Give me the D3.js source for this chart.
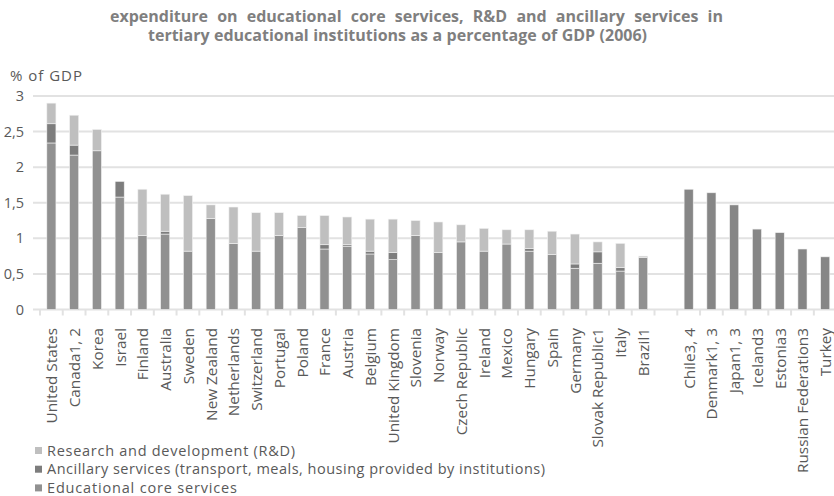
<!DOCTYPE html>
<html>
<head>
<meta charset="utf-8">
<script src="https://cdn.jsdelivr.net/npm/d3@7"></script>
<style>
  html, body { margin: 0; padding: 0; background: #fff; }
  svg { display: block; font-family: "Open Sans", "Noto Sans", sans-serif; }
</style>
</head>
<body>
<svg id="chart" width="834" height="496"></svg>
<script>
// Countries (empty slot separates countries with only a total figure)
const categories = [
  "United States", "Canada1, 2", "Korea", "Israel", "Finland", "Australia", "Sweden",
  "New Zealand", "Netherlands", "Switzerland", "Portugal", "Poland", "France", "Austria",
  "Belgium", "United Kingdom", "Slovenia", "Norway", "Czech Republic", "Ireland", "Mexico",
  "Hungary", "Spain", "Germany", "Slovak Republic1", "Italy", "Brazil1", "",
  "Chile3, 4", "Denmark1, 3", "Japan1, 3", "Iceland3", "Estonia3", "Russian Federation3", "Turkey"
];

// Educational core services (% of GDP)
const coreServices = [
  2.34, 2.17, 2.23, 1.58, 1.04, 1.06, 0.82, 1.28, 0.93, 0.82, 1.04, 1.15, 0.85, 0.89,
  0.78, 0.70, 1.04, 0.80, 0.95, 0.82, 0.92, 0.82, 0.77, 0.58, 0.65, 0.54, 0.73, 0,
  0, 0, 0, 0, 0, 0, 0
];

// Ancillary services (transport, meals, housing provided by institutions)
const ancillary = [
  0.27, 0.14, 0.00, 0.22, 0.00, 0.04, 0.00, 0.00, 0.00, 0.00, 0.00, 0.00, 0.06, 0.02,
  0.04, 0.10, 0.00, 0.00, 0.00, 0.00, 0.00, 0.04, 0.00, 0.06, 0.16, 0.05, 0.00, 0,
  0, 0, 0, 0, 0, 0, 0
];

// Research and development (R&D)
const researchDev = [
  0.29, 0.42, 0.30, 0.00, 0.65, 0.52, 0.78, 0.19, 0.51, 0.54, 0.32, 0.17, 0.41, 0.39,
  0.45, 0.47, 0.21, 0.43, 0.24, 0.32, 0.20, 0.26, 0.33, 0.42, 0.14, 0.34, 0.02, 0,
  0, 0, 0, 0, 0, 0, 0
];

// Total expenditure where no breakdown is available
const totalOnly = [
  0, 0, 0, 0, 0, 0, 0, 0, 0, 0, 0, 0, 0, 0,
  0, 0, 0, 0, 0, 0, 0, 0, 0, 0, 0, 0, 0, 0,
  1.69, 1.64, 1.47, 1.13, 1.08, 0.85, 0.74
];

const yTicks = [0, 0.5, 1, 1.5, 2, 2.5, 3];

const titleLines = [
  "expenditure on educational core services, R&D and ancillary services in",
  "tertiary educational institutions as a percentage of GDP (2006)"
];

const legendItems = [
  { key: "rnd", label: "Research and development (R&D)" },
  { key: "ancillary", label: "Ancillary services (transport, meals, housing provided by institutions)" },
  { key: "core", label: "Educational core services" }
];

const colors = { core: "#919191", ancillary: "#7d7d7d", rnd: "#bfbfbf", total: "#868686" };

// ---- build rows and stack ----
const rows = categories.map((c, i) => ({
  cat: c, idx: i,
  core: coreServices[i], ancillary: ancillary[i], rnd: researchDev[i], total: totalOnly[i]
}));
const keys = ["core", "ancillary", "rnd", "total"];
const stacked = d3.stack().keys(keys)(rows);

const svg = d3.select("#chart");
const plotLeft = 40, plotRight = 836.6, plotTop = 96, plotBottom = 309.5;

const x = d3.scaleBand()
  .domain(d3.range(categories.length))
  .range([plotLeft, plotRight])
  .paddingInner(0.6)
  .paddingOuter(0.3);
const step = x.step();

const y = d3.scaleLinear().domain([0, 3]).range([plotBottom, plotTop]);

const locale = d3.formatLocale({ decimal: ",", thousands: ".", grouping: [3], currency: ["", ""] });
const fmt = locale.format("~g");

// gridlines
svg.append("g").selectAll("line")
  .data(yTicks)
  .join("line")
  .attr("x1", 33).attr("x2", 834)
  .attr("y1", d => y(d)).attr("y2", d => y(d))
  .attr("stroke", "#e2e2e2").attr("stroke-width", 2);

// category boundary ticks below the baseline
svg.append("g").selectAll("line")
  .data(d3.range(categories.length + 1))
  .join("line")
  .attr("x1", i => plotLeft + i * step).attr("x2", i => plotLeft + i * step)
  .attr("y1", plotBottom).attr("y2", plotBottom + 6)
  .attr("stroke", "#e2e2e2").attr("stroke-width", 2);

// y axis labels
const yAxis = d3.axisLeft(y).tickValues(yTicks).tickFormat(fmt).tickSize(0).tickPadding(0);
const yg = svg.append("g").attr("transform", "translate(24,0)").call(yAxis);
yg.select(".domain").remove();
yg.selectAll("text")
  .attr("fill", "#595959")
  .attr("font-size", 14.5)
  .attr("font-family", "'Open Sans', sans-serif");

// stacked bars
svg.append("g").selectAll("g")
  .data(stacked)
  .join("g")
  .attr("fill", d => colors[d.key])
  .selectAll("rect")
  .data(d => d.filter(s => s[1] - s[0] > 0))
  .join("rect")
  .attr("x", d => x(d.data.idx))
  .attr("width", x.bandwidth())
  .attr("y", d => y(d[1]))
  .attr("height", d => y(d[0]) - y(d[1]))
  .attr("stroke", "#f2f2f2")
  .attr("stroke-width", 0.6);

// x labels (rotated)
svg.append("g").selectAll("text")
  .data(rows.filter(r => r.cat !== ""))
  .join("text")
  .attr("transform", d => `translate(${x(d.idx) + x.bandwidth() / 2 + 0.5},328) rotate(-90)`)
  .attr("text-anchor", "end")
  .attr("dy", "0.35em")
  .attr("fill", "#595959")
  .attr("font-size", 15.3)
  .text(d => d.cat);

// axis unit label
svg.append("text")
  .attr("x", 10).attr("y", 81)
  .attr("fill", "#595959")
  .attr("font-size", 15)
  .attr("textLength", 72)
  .text("% of GDP");

// title: wide word gaps, each line spread over its own width
const titleX = [110, 148];
const titleY = [22, 40.5];
const titleW = [613, 499];
svg.append("g").selectAll("text")
  .data(titleLines)
  .join("text")
  .attr("x", (d, i) => titleX[i])
  .attr("y", (d, i) => titleY[i])
  .attr("font-weight", "bold")
  .attr("font-size", 16)
  .attr("fill", "#7f7f7f")
  .text(d => d)
  .each(function (d, i) {
    const natural = this.getComputedTextLength();
    const gaps = (d.match(/ /g) || []).length;
    if (gaps > 0 && natural < titleW[i]) {
      d3.select(this).attr("word-spacing", (titleW[i] - natural) / gaps);
    } else if (natural > titleW[i]) {
      d3.select(this).attr("textLength", titleW[i]).attr("lengthAdjust", "spacingAndGlyphs");
    }
  });

// legend
const legendW = [248, 498, 190];
const lg = svg.append("g");
legendItems.forEach((item, i) => {
  const cy = 450.5 + i * 18.7;
  lg.append("rect")
    .attr("x", 35).attr("y", cy - 3.5)
    .attr("width", 7).attr("height", 7)
    .attr("fill", colors[item.key]);
  lg.append("text")
    .attr("x", 47).attr("y", cy)
    .attr("dy", "0.35em")
    .attr("fill", "#595959")
    .attr("font-size", 14.5)
    .attr("textLength", legendW[i])
    .text(item.label);
});
</script>
</body>
</html>
